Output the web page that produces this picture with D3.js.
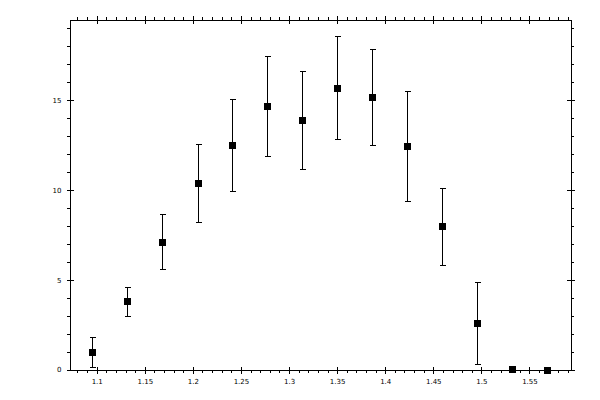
<!DOCTYPE html>
<html>
<head>
<meta charset="utf-8">
<script src="https://cdn.jsdelivr.net/npm/d3@7"></script>
<style>
  body { margin: 0; background: #fff; }
  svg { display: block; }
  .axis text { font-family: "DejaVu Sans", sans-serif; font-size: 7px; fill: #000; }
  .axis line, .axis path { stroke: #000; shape-rendering: crispEdges; }
</style>
</head>
<body>
<svg id="chart" width="600" height="400"></svg>
<script>
// data
const xs    = [1.095, 1.132, 1.168, 1.205, 1.241, 1.277, 1.314, 1.350, 1.386, 1.423, 1.459, 1.495, 1.532, 1.568];
const ys    = [0.95, 3.79, 7.08, 10.37, 12.49, 14.67, 13.89, 15.67, 15.17, 12.44, 7.98, 2.57, 0.04, 0];
const yHigh = [1.78, 4.57, 8.61, 12.53, 15.06, 17.43, 16.62, 18.57, 17.85, 15.50, 10.09, 4.85, 0.08, 0];
const yLow  = [0.11, 2.97, 5.58, 8.21, 9.93, 11.88, 11.15, 12.83, 12.49, 9.37, 5.80, 0.30, 0, 0];

const xTicks = [1.1, 1.15, 1.2, 1.25, 1.3, 1.35, 1.4, 1.45, 1.5, 1.55];
const yTicks = [0, 5, 10, 15];

const svg = d3.select("#chart");

const x = d3.scaleLinear().domain([1.0717, 1.5927]).range([69.5, 570.5]);
const y = d3.scaleLinear().domain([0, 19.5]).range([369.5, 19.5]);

const pTop = 19.5, pBottom = 369.5, pLeft = 69.5, pRight = 570.5;

//minor ticks (outward, 0.01 and 1 unit)
const xMinor = x.ticks(50).filter(v => !xTicks.some(t => Math.abs(t - v) < 1e-6));
const yMinor = y.ticks(20).filter(v => !yTicks.includes(v));

svg.append("g").attr("class", "axis").attr("transform", `translate(0,${pBottom})`)
  .call(d3.axisBottom(x).tickValues(xMinor).tickSize(3).tickSizeOuter(0).tickFormat(""));
svg.append("g").attr("class", "axis").attr("transform", `translate(0,${pTop})`)
  .call(d3.axisTop(x).tickValues(xMinor).tickSize(3).tickSizeOuter(0).tickFormat(""));
svg.append("g").attr("class", "axis").attr("transform", `translate(${pLeft},0)`)
  .call(d3.axisLeft(y).tickValues(yMinor).tickSize(3).tickSizeOuter(0).tickFormat(""));
svg.append("g").attr("class", "axis").attr("transform", `translate(${pRight},0)`)
  .call(d3.axisRight(y).tickValues(yMinor).tickSize(3).tickSizeOuter(0).tickFormat(""));

// major ticks cross the frame
const fmt = d => String(d);
const gb = svg.append("g").attr("class", "axis").attr("transform", `translate(0,${pBottom})`)
  .call(d3.axisBottom(x).tickValues(xTicks).tickSize(4).tickSizeOuter(0).tickPadding(6).tickFormat(fmt));
gb.selectAll(".tick line").attr("y1", -3);

const gt = svg.append("g").attr("class", "axis").attr("transform", `translate(0,${pTop})`)
  .call(d3.axisTop(x).tickValues(xTicks).tickSize(4).tickSizeOuter(0).tickFormat(""));
gt.selectAll(".tick line").attr("y1", 4);

const gl = svg.append("g").attr("class", "axis").attr("transform", `translate(${pLeft},0)`)
  .call(d3.axisLeft(y).tickValues(yTicks).tickSize(3).tickSizeOuter(0).tickPadding(5).tickFormat(fmt));
gl.selectAll(".tick line").attr("x1", 4);

const gr = svg.append("g").attr("class", "axis").attr("transform", `translate(${pRight},0)`)
  .call(d3.axisRight(y).tickValues(yTicks).tickSize(4).tickSizeOuter(0).tickFormat(""));
gr.selectAll(".tick line").attr("x1", -4);

// error bars
const pts = xs.map((v, i) => ({x: v, y: ys[i], lo: yLow[i], hi: yHigh[i]}));
const eb = svg.append("g").attr("stroke", "#000").attr("shape-rendering", "crispEdges");
const bar = eb.selectAll("g").data(pts).join("g");
const px = d => Math.round(x(d.x)) + 0.5;
bar.append("line")
  .attr("x1", px).attr("x2", px)
  .attr("y1", d => y(d.lo)).attr("y2", d => y(d.hi));
bar.append("line")
  .attr("x1", d => px(d) - 3).attr("x2", d => px(d) + 3)
  .attr("y1", d => y(d.hi)).attr("y2", d => y(d.hi));
bar.append("line")
  .attr("x1", d => px(d) - 3).attr("x2", d => px(d) + 3)
  .attr("y1", d => y(d.lo)).attr("y2", d => y(d.lo));

// square markers
svg.append("g").selectAll("rect").data(pts).join("rect")
  .attr("x", d => px(d) - 4)
  .attr("y", d => Math.round(y(d.y)) - 3.5)
  .attr("width", 7).attr("height", 7)
  .attr("fill", "#000")
  .attr("shape-rendering", "crispEdges");
</script>
</body>
</html>
